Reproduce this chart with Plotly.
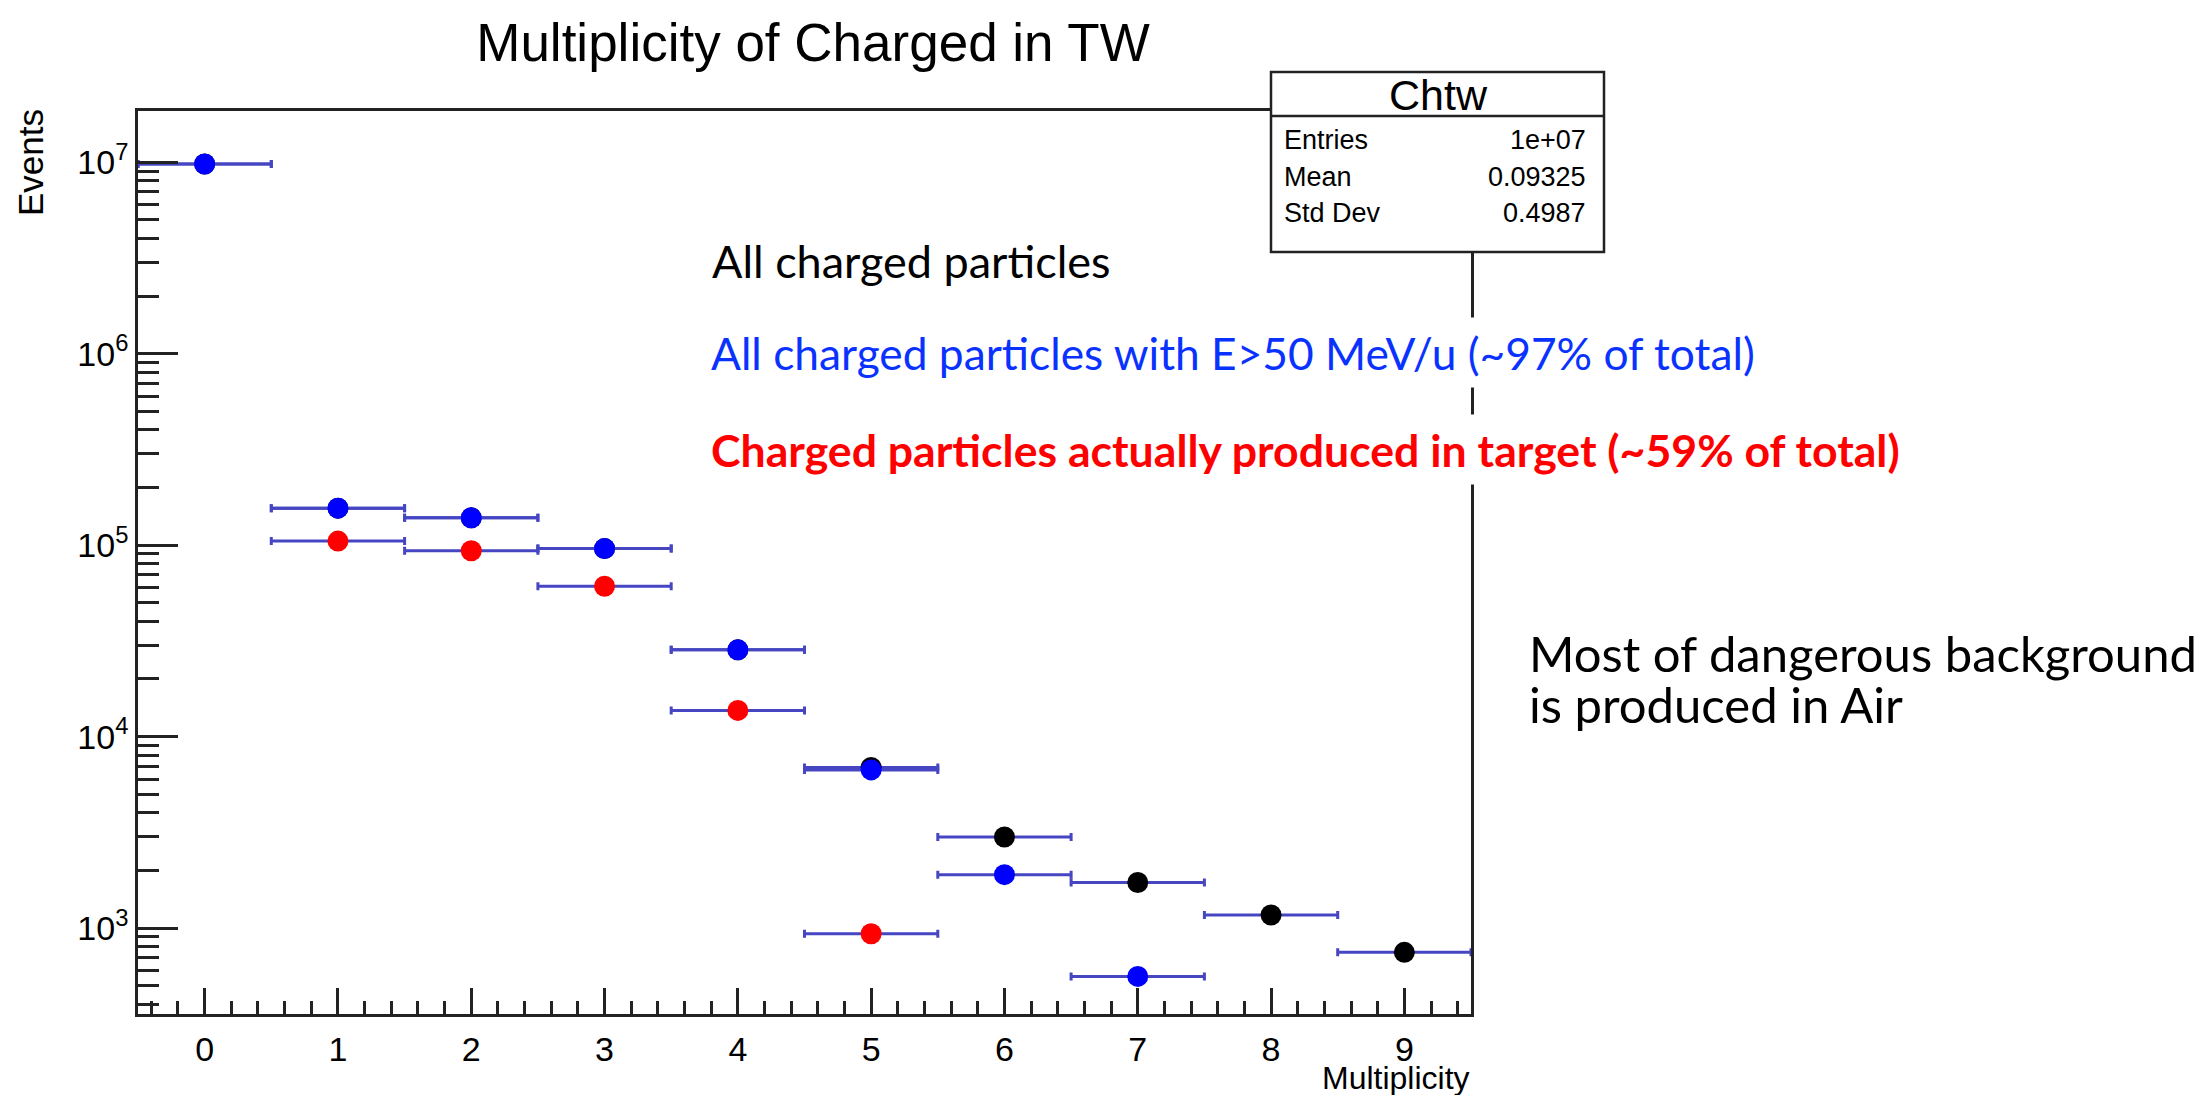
import plotly.graph_objects as go

# Charged-particle multiplicity in the TW detector (events per multiplicity bin)
multiplicity_all = [0, 1, 2, 3, 4, 5, 6, 7, 8, 9]
events_all = [9.8e6, 1.56e5, 1.39e5, 9.6e4, 2.84e4, 6.9e3, 2.99e3, 1.73e3, 1.17e3, 747]

multiplicity_fast = [0, 1, 2, 3, 4, 5, 6, 7]
events_fast = [9.8e6, 1.56e5, 1.39e5, 9.6e4, 2.84e4, 6.7e3, 1.90e3, 559]

multiplicity_target = [1, 2, 3, 4, 5]
events_target = [1.05e5, 9.35e4, 6.1e4, 1.37e4, 934]

bin_half_width = 0.5

major_y = [1e3, 1e4, 1e5, 1e6, 1e7]
major_y_text = ["10<sup>3</sup>", "10<sup>4</sup>", "10<sup>5</sup>", "10<sup>6</sup>", "10<sup>7</sup>"]
minor_y = [m * 10 ** e for e in range(2, 8) for m in range(2, 10)]

stats_title = "Chtw"
stats_rows = [("Entries", "1e+07"), ("Mean", "0.09325"), ("Std Dev", "0.4987")]

# Plot-area geometry in pixels (used to place decorations in paper coordinates)
W, H = 2212, 1095
PL, PR, PT, PB = 138, 1471, 111, 1014


def xp(px):
    return (px - PL) / (PR - PL)


def yp(py):
    return (PB - py) / (PB - PT)


ROOT_FONT = "Liberation Sans, Arial, sans-serif"
SLIDE_FONT = "Lato, Open Sans, sans-serif"
ERR_COLOR = "#4646c2"

fig = go.Figure()


def add_series(xs, ys, color, name):
    fig.add_trace(go.Scatter(
        x=xs, y=ys, mode="markers", name=name,
        marker=dict(color=color, size=21, line=dict(width=0)),
        error_x=dict(type="constant", value=bin_half_width, color=ERR_COLOR,
                     thickness=3, width=4),
        showlegend=False,
    ))


add_series(multiplicity_all, events_all, "#000000", "All charged")
add_series(multiplicity_fast, events_fast, "#0000ff", "E>50 MeV/u")
add_series(multiplicity_target, events_target, "#ff0000", "Produced in target")

axis_common = dict(
    showline=True, linecolor="#222222", linewidth=2.5, mirror=True,
    showgrid=False, zeroline=False, ticks="inside", tickcolor="#222222",
    tickwidth=2.5, tickfont=dict(family=ROOT_FONT, size=34, color="black"),
)

fig.update_xaxes(
    range=[-0.5, 9.5], tickmode="array", tickvals=list(range(10)),
    ticklen=26, ticklabelstandoff=3,
    minor=dict(dtick=0.2, tick0=0, ticks="inside", ticklen=13, tickwidth=2.5,
               tickcolor="#222222", showgrid=False),
    **axis_common,
)
fig.update_yaxes(
    type="log", range=[2.551, 7.268], tickmode="array", tickvals=major_y,
    ticktext=major_y_text, ticklen=40,
    minor=dict(tickmode="array", tickvals=minor_y, ticks="inside", ticklen=21,
               tickwidth=2.5, tickcolor="#222222", showgrid=False),
    **axis_common,
)

annotations = []

# axis titles
annotations.append(dict(
    text="Events", xref="paper", yref="paper", x=xp(30), y=yp(163),
    xanchor="center", yanchor="middle", textangle=-90, showarrow=False,
    font=dict(family=ROOT_FONT, size=35, color="black"),
))
annotations.append(dict(
    text="Multiplicity", xref="paper", yref="paper", x=xp(1472), y=yp(1078),
    xanchor="right", yanchor="middle", showarrow=False,
    font=dict(family=ROOT_FONT, size=32, color="black"),
))

# statistics box contents
annotations.append(dict(
    text=stats_title, xref="paper", yref="paper", x=xp(1438), y=yp(95),
    xanchor="center", yanchor="middle", showarrow=False,
    font=dict(family=ROOT_FONT, size=43, color="black"),
))
for i, (label, value) in enumerate(stats_rows):
    row_y = 140 + i * 36.5
    annotations.append(dict(
        text=label, xref="paper", yref="paper", x=xp(1282), y=yp(row_y),
        xanchor="left", yanchor="middle", showarrow=False,
        font=dict(family=ROOT_FONT, size=27, color="black"),
    ))
    annotations.append(dict(
        text=value, xref="paper", yref="paper", x=xp(1588), y=yp(row_y),
        xanchor="right", yanchor="middle", showarrow=False,
        font=dict(family=ROOT_FONT, size=27, color="black"),
    ))

# slide commentary
PAD = 8
annotations.append(dict(
    text="All charged particles", xref="paper", yref="paper",
    x=xp(710), y=yp(261), xanchor="left", yanchor="middle", showarrow=False,
    font=dict(family=SLIDE_FONT, size=45, color="black"),
))
annotations.append(dict(
    text="All charged particles with E&gt;50 MeV/u (~97% of total)",
    xref="paper", yref="paper", x=xp(712 - PAD - 2), y=yp(352), xanchor="left",
    yanchor="middle", showarrow=False, bgcolor="white", borderpad=PAD,
    font=dict(family=SLIDE_FONT, size=44.3, color="#0a32ff"),
))
annotations.append(dict(
    text="<b>Charged particles actually produced in target (~59% of total)</b>",
    xref="paper", yref="paper", x=xp(712 - PAD - 2), y=yp(449), xanchor="left",
    yanchor="middle", showarrow=False, bgcolor="white", borderpad=PAD,
    font=dict(family=SLIDE_FONT, size=44.6, color="#ff0000"),
))
annotations.append(dict(
    text="Most of dangerous background", xref="paper", yref="paper",
    x=xp(1527), y=yp(653), xanchor="left", yanchor="middle", showarrow=False,
    font=dict(family=SLIDE_FONT, size=49, color="black"),
))
annotations.append(dict(
    text="is produced in Air", xref="paper", yref="paper",
    x=xp(1527), y=yp(704), xanchor="left", yanchor="middle", showarrow=False,
    font=dict(family=SLIDE_FONT, size=49, color="black"),
))

shapes = [
    dict(type="rect", xref="paper", yref="paper", layer="above",
         x0=xp(1271), x1=xp(1604), y0=yp(252), y1=yp(72),
         fillcolor="white", line=dict(color="#222222", width=2.5)),
    dict(type="line", xref="paper", yref="paper", layer="above",
         x0=xp(1271), x1=xp(1604), y0=yp(116), y1=yp(116),
         line=dict(color="#222222", width=2.5)),
]

fig.update_layout(
    width=W, height=H,
    margin=dict(l=PL, r=W - PR, t=PT, b=H - PB, pad=0),
    paper_bgcolor="white", plot_bgcolor="white",
    title=dict(text="Multiplicity of Charged in TW", x=813 / W, xanchor="center",
               y=1 - 42 / H, yanchor="middle",
               font=dict(family=ROOT_FONT, size=53, color="black")),
    annotations=annotations, shapes=shapes,
)

fig.write_html("out.html")
